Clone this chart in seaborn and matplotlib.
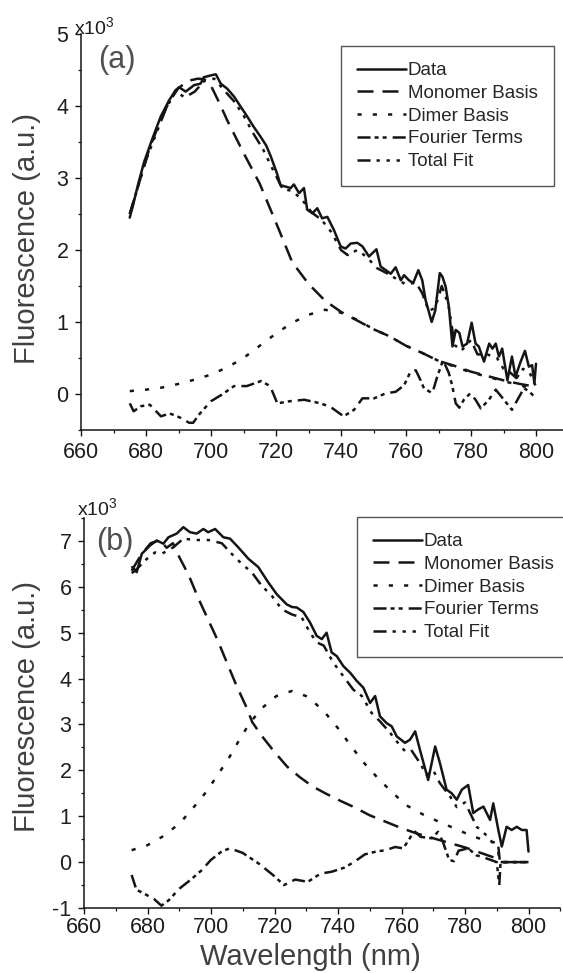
import matplotlib
matplotlib.use("Agg")
import matplotlib.pyplot as plt
import seaborn as sns
from matplotlib.ticker import MultipleLocator

# ---------------- data (fluorescence in units of 10^3) ----------------
# panel (a)
a_data_wl = [675, 676, 677.5, 679.4, 682, 684.5, 687, 689.1, 690.2, 692.2, 694.8, 696.8, 697.8,
             700.4, 701.5, 703, 705, 707.1, 709, 711.2, 713, 715.3, 717, 718.4, 720.4, 721.4, 723,
             724.5, 725.5, 727.1, 728.6, 729.6, 731.2, 732.7, 734.2, 735.8, 737.8, 739.9, 741.4, 743,
             745, 746.6, 748.6, 750.9, 752.2, 753.8, 755.3, 756.8, 758.4, 759.4, 760.9, 762.2, 763.8,
             765, 766, 767.9, 769, 770.4, 771.2, 772.2, 773.2, 774.3, 775.3, 776.4, 777.4, 778.8,
             780.2, 781.4, 782.4, 784, 785.6, 786.6, 787.6, 788.6, 789.6, 791.2, 792.6, 793.7, 795.2,
             796.6, 797.8, 798.8, 799.5, 800]
a_data = [2.45, 2.62, 2.9, 3.22, 3.55, 3.85, 4.07, 4.22, 4.26, 4.2, 4.29, 4.31, 4.4,
          4.43, 4.44, 4.31, 4.24, 4.13, 4.0, 3.85, 3.72, 3.57, 3.45, 3.3, 3.05, 2.9, 2.88,
          2.86, 2.91, 2.79, 2.86, 2.56, 2.51, 2.58, 2.44, 2.46, 2.28, 2.05, 2.02, 2.09,
          2.1, 2.05, 1.91, 2.01, 1.77, 1.72, 1.67, 1.76, 1.58, 1.65, 1.58, 1.54, 1.72,
          1.58, 1.31, 1.0, 1.16, 1.68, 1.63, 1.49, 1.21, 0.66, 0.89, 0.85, 0.66, 0.7,
          0.99, 0.7, 0.66, 0.45, 0.7, 0.63, 0.7, 0.52, 0.63, 0.19, 0.52, 0.24, 0.44,
          0.6, 0.38, 0.4, 0.15, 0.42]

a_mono_wl = [675, 678, 681, 684, 687, 690, 693, 696, 698, 700, 702.5, 705, 710, 715, 720, 725,
             730, 735, 740, 745, 750, 755, 760, 765, 770, 775, 780, 785, 790, 795, 800]
a_mono = [2.5, 2.95, 3.4, 3.75, 4.05, 4.25, 4.35, 4.38, 4.37, 4.28, 4.05, 3.8, 3.35, 2.92, 2.38,
          1.83, 1.53, 1.3, 1.14, 1.02, 0.9, 0.8, 0.67, 0.57, 0.46, 0.39, 0.31, 0.25, 0.19, 0.14, 0.1]

a_dimer_wl = [675, 680, 685, 690, 695, 700, 705, 710, 715, 720, 725, 730, 735, 740, 745, 750,
              755, 760, 765, 770, 775, 780, 785, 790, 795, 800]
a_dimer = [0.04, 0.06, 0.09, 0.14, 0.2, 0.27, 0.37, 0.5, 0.67, 0.84, 0.99, 1.1, 1.17, 1.13, 1.03,
           0.9, 0.8, 0.67, 0.57, 0.46, 0.38, 0.3, 0.24, 0.18, 0.12, 0.08]

a_four_wl = [675, 676.2, 678.4, 681.2, 684.6, 687.3, 690.6, 693.3, 694.5, 696.6, 700, 703.3, 707.1,
             711, 715.4, 718.2, 720.4, 724.3, 728.7, 733.7, 736.8, 740.8, 744, 746.6, 750.2, 753.8,
             756.8, 759.4, 761.4, 763, 764.5, 765.5, 768.1, 769.6, 771.4, 773.2, 774.3, 775.3,
             776.4, 777.8, 779.8, 781.4, 783, 785.5, 787.6, 789.6, 792.6, 794.8, 796.3, 797.8, 800]
a_four = [-0.13, -0.24, -0.17, -0.15, -0.31, -0.27, -0.33, -0.40, -0.40, -0.27, -0.10, -0.01, 0.11,
          0.11, 0.18, 0.11, -0.13, -0.10, -0.08, -0.13, -0.18, -0.31, -0.22, -0.06, -0.06, 0.01,
          0.03, 0.12, 0.31, 0.33, 0.19, 0.08, 0.01, 0.24, 0.47, 0.29, 0.10, -0.13,
          -0.19, -0.08, 0.01, -0.08, -0.20, -0.08, 0.06, -0.05, -0.22, -0.04, 0.08, 0.04, -0.06]

a_fit_wl = [675, 678, 680, 683, 686, 689, 692, 695, 698, 701, 704, 707, 710, 713, 716, 719, 722,
            725, 728, 731, 734, 737, 740, 742, 745, 748, 751, 754, 757, 760, 763, 765, 767, 769,
            771, 773, 775, 777, 780, 782, 785, 788, 790, 792, 794, 796, 798, 800]
a_fit = [2.5, 2.95, 3.25, 3.6, 3.95, 4.2, 4.12, 4.2, 4.35, 4.38, 4.22, 4.07, 3.87, 3.62, 3.4, 3.12,
         2.85, 2.82, 2.7, 2.52, 2.42, 2.25, 2.0, 1.93, 2.0, 1.9, 1.75, 1.68, 1.6, 1.52, 1.55, 1.4,
         1.15, 1.2, 1.5, 1.25, 0.68, 0.6, 0.75, 0.55, 0.55, 0.5, 0.35, 0.3, 0.22, 0.35, 0.3, 0.1]

# panel (b)
b_data_wl = [675.2, 676.6, 678.2, 680.8, 682.9, 685, 686.6, 689.2, 691.3, 693.4, 695.5, 697.6,
             699.1, 701.3, 703.9, 706, 708.6, 711.8, 714.9, 718, 720.7, 723.8, 725.5, 727, 729.1,
             731.2, 733.3, 734.9, 736.4, 738, 739.6, 741.7, 743.8, 745.9, 748, 750.1, 751.7, 753.2,
             755.3, 756.9, 758.5, 761.1, 762.7, 764.3, 765.8, 768.4, 770.6, 772.1, 774.2, 775.8,
             777.4, 779, 781, 782.6, 784.2, 785.8, 787.9, 788.9, 790.5, 791.6, 793.1, 794.7, 796.3,
             797.9, 799.4, 800]
b_data = [6.43, 6.32, 6.72, 6.9, 7.01, 6.94, 7.08, 7.16, 7.3, 7.19, 7.16, 7.26,
          7.19, 7.26, 7.08, 7.05, 6.86, 6.61, 6.43, 6.1, 5.84, 5.62, 5.56, 5.55, 5.45,
          5.22, 4.93, 4.86, 5.0, 4.57, 4.49, 4.27, 4.13, 3.95, 3.8, 3.47, 3.62, 3.18,
          3.03, 2.96, 2.74, 2.6, 2.67, 2.85, 2.45, 1.79, 2.52, 2.16, 1.58, 1.5,
          1.36, 1.58, 1.68, 1.07, 1.15, 1.21, 0.92, 1.28, 0.7, 0.34, 0.77, 0.7, 0.77,
          0.7, 0.7, 0.23]

b_mono_wl = [675, 678, 681, 684, 686, 688, 690, 693, 696, 699, 702, 705, 708, 711, 713, 716, 720,
             724, 728, 732, 736, 740, 745, 750, 755, 760, 765, 770, 775, 780, 785, 790, 791, 800]
b_mono = [6.35, 6.7, 6.95, 7.02, 6.85, 6.95, 6.65, 6.25, 5.75, 5.3, 4.85, 4.35, 3.85, 3.4, 3.05,
          2.75, 2.4, 2.08, 1.85, 1.65, 1.5, 1.36, 1.2, 1.02, 0.88, 0.74, 0.62, 0.52, 0.42, 0.32,
          0.2, 0.08, 0.0, 0.0]

b_dimer_wl = [675, 680, 685.6, 690.6, 695.2, 698.6, 702.5, 705.9, 709.3, 712.2, 716.1, 720.6,
              725.5, 730.7, 735.9, 740.1, 743.8, 747.7, 752.3, 756.9, 761.5, 767, 772.1, 776.9,
              782.1, 787, 790, 791, 800]
b_dimer = [0.26, 0.37, 0.59, 0.88, 1.25, 1.54, 1.94, 2.3, 2.71, 3.03, 3.36, 3.62, 3.73, 3.6,
           3.26, 2.91, 2.56, 2.2, 1.85, 1.53, 1.24, 1.03, 0.87, 0.73, 0.57, 0.46, 0.42, 0.0, 0.0]

b_four_wl = [675, 676.5, 679, 682, 684.4, 686.7, 690, 693.5, 697, 700, 703.5, 706, 710, 715,
             719.5, 723, 726.5, 730.5, 734.5, 738, 742, 745, 748.5, 752, 755, 758, 760.5, 762,
             764, 766, 769.5, 771.5, 773, 775, 776.5, 778, 781, 783.5, 786, 788, 790, 790.8, 791.2,
             800]
b_four = [-0.28, -0.6, -0.69, -0.8, -0.95, -0.83, -0.58, -0.39, -0.18, 0.05, 0.24, 0.3, 0.2,
          -0.03, -0.28, -0.5, -0.38, -0.43, -0.25, -0.21, -0.12, 0.0, 0.17, 0.23, 0.26, 0.33, 0.3,
          0.45, 0.68, 0.55, 0.52, 0.66, 0.45, 0.05, 0.02, 0.25, 0.3, 0.15, 0.1, 0.05, 0.0, -0.5,
          0.0, 0.0]

b_fit_wl = [675, 676.1, 679.8, 682.4, 684.5, 688.1, 691.3, 695, 699.2, 703.4, 706.5, 709.7, 712.8,
            716, 719.1, 722.3, 725.4, 728.6, 731.2, 733.3, 735.5, 738.5, 741.7, 744.8, 747.5,
            750.6, 753.2, 756.4, 758.5, 761.1, 763, 765.8, 767.9, 770, 772.1, 775.3, 777.4, 780,
            783.7, 786.5, 788.9, 790.5, 791, 800]
b_fit = [6.3, 6.35, 6.61, 6.75, 6.72, 6.86, 7.05, 7.02, 7.02, 6.95, 6.72, 6.5, 6.32, 6.02, 5.81,
         5.51, 5.4, 5.33, 5.0, 4.79, 4.72, 4.35, 4.05, 3.76, 3.62, 3.25, 3.07, 2.82, 2.63, 2.42,
         2.45, 2.16, 1.9, 2.0, 1.72, 1.43, 1.2, 1.3, 0.77, 0.6, 0.41, 0.34, 0.0, 0.0]

series_labels = ["Data", "Monomer Basis", "Dimer Basis", "Fourier Terms", "Total Fit"]
x_ticks = [660, 680, 700, 720, 740, 760, 780, 800]

# ---------------- styling ----------------
sns.set_style("ticks")
plt.rcParams["font.family"] = ["Liberation Sans", "DejaVu Sans"]
plt.rcParams["lines.scale_dashes"] = False
plt.rcParams["axes.unicode_minus"] = False
plt.rcParams["mathtext.fontset"] = "custom"
plt.rcParams["mathtext.rm"] = "Liberation Sans"

LW = 1.8
line_styles = [
    "-",
    (0, (11.5, 6.5)),
    (0, (3.0, 8.0)),
    (0, (9.4, 2.9, 2.9, 2.9, 2.9, 4.3)),
    (0, (9.4, 4.3, 2.4, 4.8, 2.4, 4.8, 2.4, 4.8)),
]
INK = "#151515"
LABEL_GREY = "#404040"

W, H = 563, 973
fig = plt.figure(figsize=(W / 100, H / 100), dpi=100)


def px_axes(left, top, right, bottom):
    return fig.add_axes([left / W, 1 - bottom / H, (right - left) / W, (bottom - top) / H])


ax_a = px_axes(81, 34, 81 + 150 * 3.25, 430)
ax_b = px_axes(84, 518, 84 + 150 * 3.175, 908)

panels = [
    (ax_a, [(a_data_wl, a_data), (a_mono_wl, a_mono), (a_dimer_wl, a_dimer),
            (a_four_wl, a_four), (a_fit_wl, a_fit)], (-0.5, 5.0), [0, 1, 2, 3, 4, 5]),
    (ax_b, [(b_data_wl, b_data), (b_mono_wl, b_mono), (b_dimer_wl, b_dimer),
            (b_four_wl, b_four), (b_fit_wl, b_fit)], (-1.0, 7.5), [-1, 0, 1, 2, 3, 4, 5, 6, 7]),
]

for ax, series, ylim, yticks in panels:
    for (xs, ys), lab, ls in zip(series, series_labels, line_styles):
        sns.lineplot(x=xs, y=ys, ax=ax, color=INK, linewidth=LW, linestyle=ls,
                     label=lab, sort=False, estimator=None)
    ax.set_xlim(660, 810)
    ax.set_ylim(*ylim)
    ax.set_xticks(x_ticks)
    ax.set_yticks(yticks)
    ax.xaxis.set_minor_locator(MultipleLocator(10))
    ax.yaxis.set_minor_locator(MultipleLocator(0.5))
    ax.set_xlabel("")
    ax.set_ylabel("")
    for side in ("top", "right"):
        ax.spines[side].set_visible(False)
    for side in ("left", "bottom"):
        ax.spines[side].set_linewidth(1.1)
        ax.spines[side].set_color(INK)
    ax.tick_params(which="major", direction="out", length=4, width=1.0, colors=INK,
                   labelsize=15.5, labelcolor="#1e1e1e", pad=5)
    ax.tick_params(which="minor", direction="out", length=2.5, width=0.9, colors=INK)
    ax.patch.set_alpha(0)

# the lower panel's tick labels sit a little closer to the axis to make room for its title
ax_b.tick_params(axis="x", which="major", pad=2.5)

# legends
leg_kw = dict(fontsize=13.5, frameon=True, fancybox=False, handlelength=2.6,
              handletextpad=0.12, labelspacing=0.3, borderpad=0.85, borderaxespad=0.0,
              loc="upper left", bbox_transform=fig.transFigure)
leg_a = ax_a.legend(bbox_to_anchor=(341 / W, 1 - 46 / H), **leg_kw)
leg_b = ax_b.legend(bbox_to_anchor=(357 / W, 1 - 517 / H), **leg_kw)
for leg in (leg_a, leg_b):
    fr = leg.get_frame()
    fr.set_edgecolor("#555555")
    fr.set_linewidth(1.0)
    fr.set_alpha(1)

# panel tags and multipliers
fig.text(98 / W, 1 - 60 / H, "(a)", fontsize=22, color="#505050", ha="left", va="center")
fig.text(96 / W, 1 - 542 / H, "(b)", fontsize=22, color="#505050", ha="left", va="center")
fig.text(74 / W, 1 - 35 / H, r"x10$^{3}$", fontsize=14, color="#1e1e1e", ha="left", va="baseline")
fig.text(77 / W, 1 - 516 / H, r"x10$^{3}$", fontsize=14, color="#1e1e1e", ha="left", va="baseline")

# axis titles
fig.text(27 / W, 1 - 238 / H, "Fluorescence (a.u.)", fontsize=21, color=LABEL_GREY,
         rotation=90, ha="center", va="center")
fig.text(27 / W, 1 - 707 / H, "Fluorescence (a.u.)", fontsize=21, color=LABEL_GREY,
         rotation=90, ha="center", va="center")
fig.text(310 / W, 1 - 957 / H, "Wavelength (nm)", fontsize=21, color=LABEL_GREY,
         ha="center", va="center")

fig.savefig("out.png", dpi=100, facecolor="white")
